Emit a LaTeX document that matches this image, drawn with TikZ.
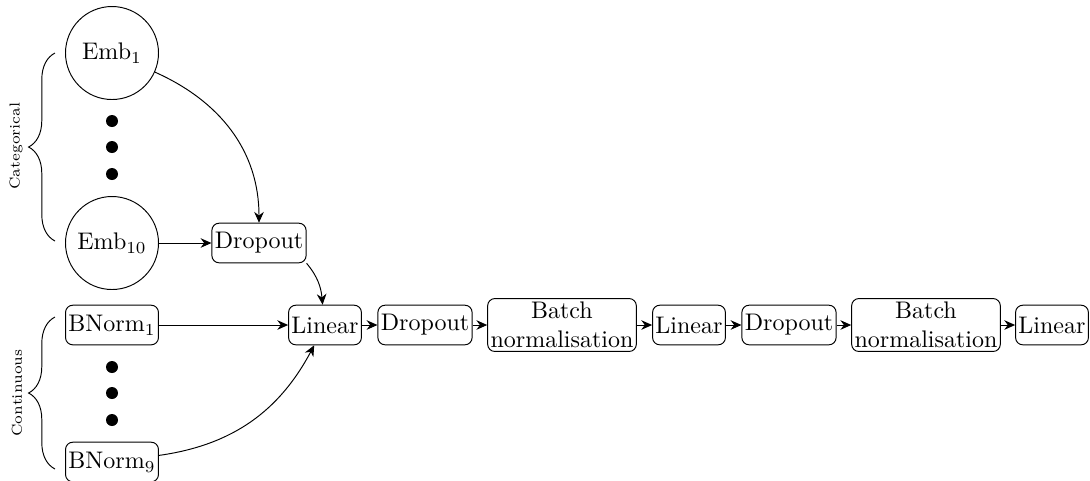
\documentclass[tikz,border=0pt]{standalone}
\usetikzlibrary{arrows.meta,decorations.pathreplacing}
\begin{document}
\begin{tikzpicture}[x=0.41667pt,y=-0.41667pt,
 blk/.style={draw,rounded corners=3pt,minimum height=16.5pt,inner xsep=1.2pt,inner ysep=1.5pt,align=center},
 emb/.style={draw,circle,minimum size=38.75pt,inner sep=0pt},
 dotn/.style={circle,fill,inner sep=0pt,minimum size=5pt},
 arr/.style={-{Stealth[length=4.5pt,width=4pt]}},
 brc/.style={decorate,decoration={brace,amplitude=11pt}},
 lab/.style={font=\fontsize{6}{7}\selectfont,rotate=90}]
\useasboundingbox (0,0) rectangle (1090,480);
% categorical
\node[emb] (emb1) at (112,53) {Emb$_{1}$};
\node[emb] (emb10) at (112,243) {Emb$_{10}$};
\node[dotn] (d1) at (112,121) {};
\node[dotn] (d2) at (112,147) {};
\node[dotn] (d3) at (112,174) {};
\node[blk] (drop1) at (259,243) {Dropout};
% continuous
\node[blk] (bn1) at (112,325) {BNorm$_{1}$};
\node[blk] (bn9) at (112,462) {BNorm$_{9}$};
\node[dotn] (d4) at (112,367) {};
\node[dotn] (d5) at (112,393) {};
\node[dotn] (d6) at (112,420) {};
% chain
\node[blk] (lin1) at (325,325) {Linear};
\node[blk] (drop2) at (425,325) {Dropout};
\node[blk] (bat1) at (562,325) {Batch\\normalisation};
\node[blk] (lin2) at (689,325) {Linear};
\node[blk] (drop3) at (789,325) {Dropout};
\node[blk] (bat2) at (926,325) {Batch\\normalisation};
\node[blk] (lin3) at (1052,325) {Linear};
% braces
\coordinate (cb1) at (55,241);
\coordinate (ct1) at (55,53);
\coordinate (cb2) at (55,469);
\coordinate (ct2) at (55,317);
\draw[brc] (cb1) -- (ct1);
\draw[brc] (cb2) -- (ct2);
\node[lab] (catl) at (16,146) {Categorical};
\node[lab] (conl) at (17,393) {Continuous};
% edges
\draw[arr] (emb1) to[out=-24,in=90] (drop1.north);
\draw[arr] (emb10) -- (drop1);
\draw[arr] (drop1.south east) to[out=-50,in=95] ([xshift=-1pt]lin1.north);
\draw[arr] (bn1) -- (lin1);
\draw[arr] (bn9) to[out=8,in=-118] ([xshift=-4.5pt]lin1.south);
\draw[arr] (lin1) -- (drop2);
\draw[arr] (drop2) -- (bat1);
\draw[arr] (bat1) -- (lin2);
\draw[arr] (lin2) -- (drop3);
\draw[arr] (drop3) -- (bat2);
\draw[arr] (bat2) -- (lin3);
\end{tikzpicture}
\end{document}
